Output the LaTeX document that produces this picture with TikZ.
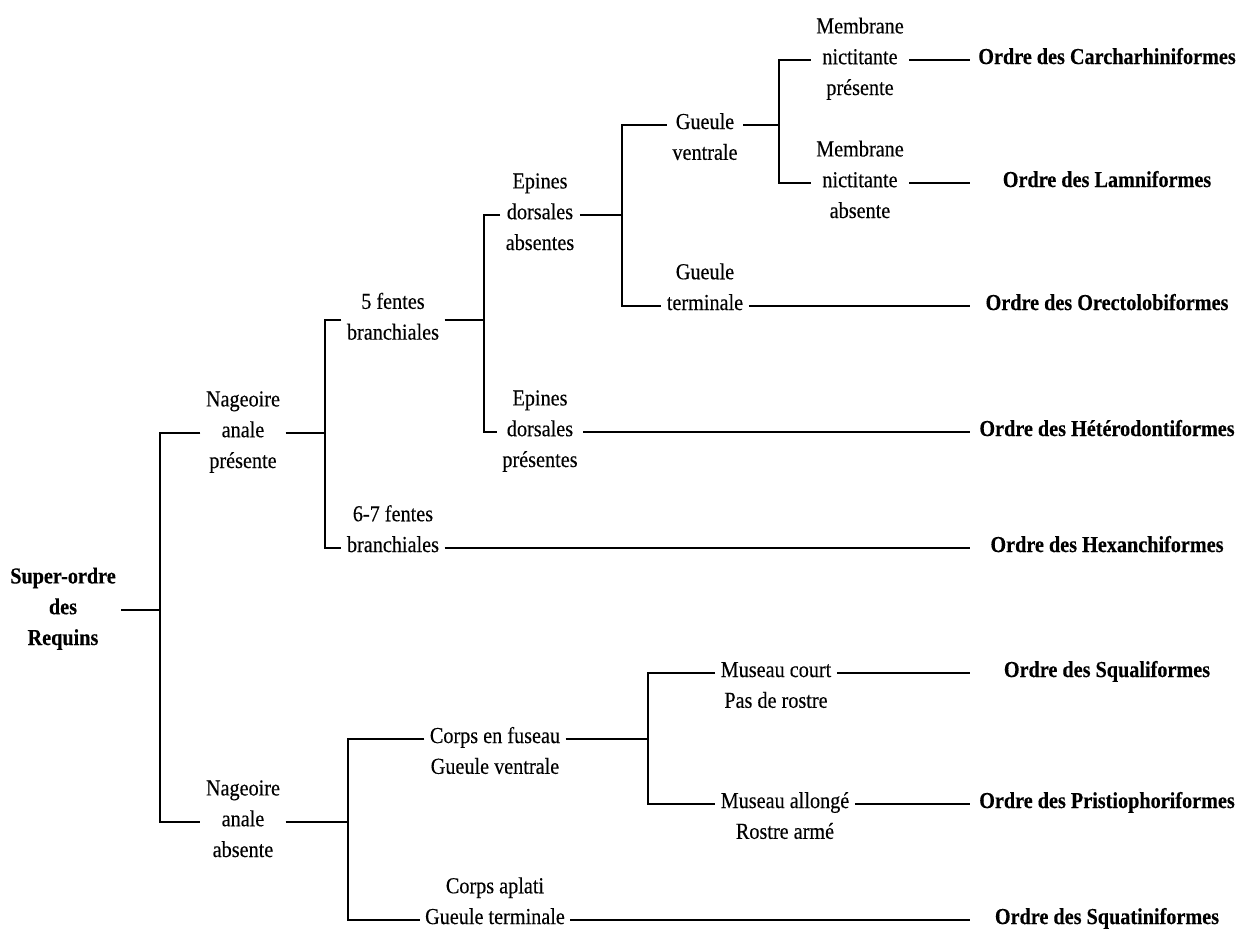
\documentclass[tikz,border=0pt]{standalone}
\usepackage{fontspec}
\setmainfont{Liberation Serif}[UprightFeatures={FakeBold=0.3}, BoldFeatures={FakeBold=0.3}]
\usepackage{graphicx}
\newcommand{\haut}[1]{\scalebox{1}[1.13]{#1}}
\newcommand{\crittop}[1]{\haut{\begin{tabular}[t]{@{}c@{}}#1\end{tabular}}}
\newcommand{\critbot}[1]{\haut{\begin{tabular}[b]{@{}c@{}}#1\end{tabular}}}
\newcommand{\critmid}[1]{\haut{\begin{tabular}{@{}c@{}}#1\end{tabular}}}
\begin{document}
\begin{tikzpicture}[
    x=0.2mm, y=-0.2mm,
    every node/.style={font=\fontsize{11.5}{15.5}\selectfont, anchor=mid, inner sep=3pt},
    gras/.style={font=\fontsize{11.5}{15.5}\selectfont\bfseries},
    ordre/.style={gras, minimum width=5.48cm},
    lien/.style={line width=1.35pt}
]
\useasboundingbox (0,0) rectangle (1250,937);

\node (root) [gras] at (63,610) {\critmid{Super-ordre\\des\\Requins}};
\node (nap) at (243,433) {\critmid{Nageoire\\anale\\présente}};
\node (nab) at (243,822) {\critmid{Nageoire\\anale\\absente}};
\node (f5) at (393,320) {\critmid{5 fentes\\branchiales}};
\node (f67) at (393,548) {\critbot{6-7 fentes\\branchiales}};
\node (eda) at (540,215) {\critmid{Epines\\dorsales\\absentes}};
\node (edp) at (540,432) {\critmid{Epines\\dorsales\\présentes}};
\node (gv) at (705,125) {\crittop{Gueule\\ventrale}};
\node (gt) at (705,306) {\critbot{Gueule\\terminale}};
\node (mnp) at (860,60) {\critmid{Membrane\\nictitante\\présente}};
\node (mna) at (860,183) {\critmid{Membrane\\nictitante\\absente}};
\node (cef) at (495,739) {\crittop{Corps en fuseau\\Gueule ventrale}};
\node (cap) at (495,920) {\critbot{Corps aplati\\Gueule terminale}};
\node (mc) at (776,673) {\crittop{Museau court\\Pas de rostre}};
\node (ma) at (785,804) {\crittop{Museau allongé\\Rostre armé}};

\node (car) [ordre] at (1107,60) {\haut{Ordre des Carcharhiniformes}};
\node (lam) [ordre] at (1107,183) {\haut{Ordre des Lamniformes}};
\node (ore) [ordre] at (1107,306) {\haut{Ordre des Orectolobiformes}};
\node (het) [ordre] at (1107,432) {\haut{Ordre des Hétérodontiformes}};
\node (hex) [ordre] at (1107,548) {\haut{Ordre des Hexanchiformes}};
\node (squal) [ordre] at (1107,673) {\haut{Ordre des Squaliformes}};
\node (pri) [ordre] at (1107,804) {\haut{Ordre des Pristiophoriformes}};
\node (squat) [ordre] at (1107,920) {\haut{Ordre des Squatiniformes}};

\coordinate (jA) at (160,610);
\coordinate (jB) at (325,433);
\coordinate (jC) at (484,320);
\coordinate (jD) at (622,215);
\coordinate (jE) at (779,125);
\coordinate (jF) at (348,822);
\coordinate (jG) at (648,739);

\draw[lien] (root.mid east) -- (jA);
\draw[lien] (nap.mid west) -| (jA) |- (nab.mid west);
\draw[lien] (nap.mid east) -- (jB);
\draw[lien] (f5.mid west) -| (jB) |- (f67.mid west);
\draw[lien] (f5.mid east) -- (jC);
\draw[lien] (eda.mid west) -| (jC) |- (edp.mid west);
\draw[lien] (eda.mid east) -- (jD);
\draw[lien] (gv.mid west) -| (jD) |- (gt.mid west);
\draw[lien] (gv.mid east) -- (jE);
\draw[lien] (mnp.mid west) -| (jE) |- (mna.mid west);
\draw[lien] (mnp.mid east) -- (car.mid west);
\draw[lien] (mna.mid east) -- (lam.mid west);
\draw[lien] (gt.mid east) -- (ore.mid west);
\draw[lien] (edp.mid east) -- (het.mid west);
\draw[lien] (f67.mid east) -- (hex.mid west);
\draw[lien] (nab.mid east) -- (jF);
\draw[lien] (cef.mid west) -| (jF) |- (cap.mid west);
\draw[lien] (cef.mid east) -- (jG);
\draw[lien] (mc.mid west) -| (jG) |- (ma.mid west);
\draw[lien] (mc.mid east) -- (squal.mid west);
\draw[lien] (ma.mid east) -- (pri.mid west);
\draw[lien] (cap.mid east) -- (squat.mid west);
\end{tikzpicture}
\end{document}
